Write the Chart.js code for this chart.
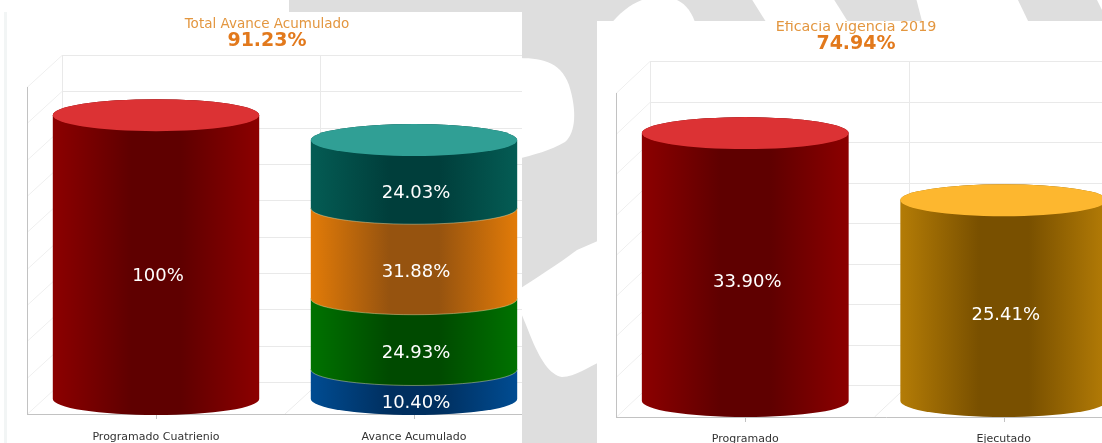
<!DOCTYPE html>
<html>
<head>
<meta charset="utf-8">
<title>Avance</title>
<script src="https://cdn.jsdelivr.net/npm/chart.js@4"></script>
<style>
  html, body { margin: 0; padding: 0; background: #fff; width: 1102px; height: 443px; overflow: hidden; }
  .fondo { position: absolute; left: 0; top: 0; }
  .panel { position: absolute; background: #fff; overflow: hidden; }
  #panel1 { left: 7px; top: 12px; width: 515px; height: 431px; box-shadow: -3px 0 0 #f2f5f5; }
  #panel2 { left: 597px; top: 21px; width: 505px; height: 422px; }
  .panel canvas { position: absolute; left: 0; top: 0; filter: blur(0.4px); }
  .titulo, .total { position: absolute; left: 0; text-align: center; font-family: "DejaVu Sans", sans-serif; filter: blur(0.3px); z-index: 2; }
  .titulo { font-size: 13.5px; line-height: 16px; color: #e3963f; }
  .total { font-size: 19px; line-height: 22px; font-weight: bold; color: #e2791c; }
</style>
</head>
<body>
<svg class="fondo" width="1102" height="443">
  <rect x="289" y="0" width="813" height="443" fill="#dedede"/>
  <path fill="#fff" d="M515,58 C540,58 560,60 569,85 C577,110 576,133 565,142 C550,151 535,154 515,160 Z"/>
  <path fill="#fff" d="M515,292 C528,283 550,270 577,250 L600,240 L600,362 C590,366 575,377 562,377 C550,375 540,360 530,335 C525,322 520,310 515,300 Z"/>
  <path fill="#fff" d="M610,25 C620,12 635,0 650,-2 L672,-2 C685,2 692,12 696,25 Z"/>
  <path fill="#fff" d="M751,-2 L833,-2 L850,25 L768,25 Z"/>
  <path fill="#fff" d="M916,-2 L1017,-2 L1030,25 L923,25 Z"/>
  <path fill="#fff" d="M1096,-2 L1104,-2 L1104,14 Z"/>
</svg>

<div class="panel" id="panel1">
  <div class="titulo" style="top:3px;width:520px">Total Avance Acumulado</div>
  <div class="total" style="top:16px;width:520px">91.23%</div>
  <canvas id="chart1" width="560" height="431"></canvas>
</div>
<div class="panel" id="panel2">
  <div class="titulo" style="top:-3px;width:518px;font-size:14.3px">Eficacia vigencia 2019</div>
  <div class="total" style="top:10px;width:518px">74.94%</div>
  <canvas id="chart2" width="560" height="422"></canvas>
</div>

<script>
const categories1 = ['Programado Cuatrienio', 'Avance Acumulado'];
const programadoCuatrienio = [100, null];
const avanceAzul = [null, 10.40];
const avanceVerde = [null, 24.93];
const avanceNaranja = [null, 31.88];
const avanceTeal = [null, 24.03];

const categories2 = ['Programado', 'Ejecutado'];
const vigencia2019 = [33.90, 25.41];

// colores: [borde, centro, tapa]
const ROJO = ['#8c0000', '#5f0000', '#dc3234'];
const AZUL = ['#004c92', '#002f5f', '#1d6fb0'];
const VERDE = ['#007200', '#004a00', '#2a9a2a'];
const NARANJA = ['#e27b08', '#96530f', '#f5a030'];
const TEAL = ['#045c54', '#003e3b', '#309f95'];
const AMARILLO = ['#b47c06', '#795000', '#fdb72f'];

function sideGradient(ctx, left, right, colors) {
  let g = ctx.createLinearGradient(left, 0, right, 0);
  g.addColorStop(0, colors[0]);
  g.addColorStop(0.38, colors[1]);
  g.addColorStop(0.62, colors[1]);
  g.addColorStop(1, colors[0]);
  return g;
}

function drawWalls(chart, o) {
  const ctx = chart.ctx;
  const area = chart.chartArea;
  const yScale = chart.scales.y;
  const xScale = chart.scales.x;
  const step = xScale.getPixelForTick(1) - xScale.getPixelForTick(0);
  const backLeft = area.left + o.depth;
  const cw = chart.width;
  ctx.save();
  ctx.lineWidth = 1;
  yScale.ticks.forEach((t, i) => {
    let y = Math.round(yScale.getPixelForValue(t.value));
    // pared de fondo
    ctx.strokeStyle = '#e9e9e9';
    ctx.beginPath();
    ctx.moveTo(backLeft, y - o.back + 0.5);
    ctx.lineTo(cw, y - o.back + 0.5);
    ctx.stroke();
    // pared izquierda
    ctx.strokeStyle = '#efefef';
    ctx.beginPath();
    ctx.moveTo(area.left, y + o.front + 0.5);
    ctx.lineTo(backLeft, y - o.back + 0.5);
    ctx.stroke();
  });
  ctx.strokeStyle = '#e9e9e9';
  [0, 1].forEach((k) => {
    let x = Math.round(backLeft + step * k) + 0.5;
    ctx.beginPath();
    ctx.moveTo(x, area.top - o.back);
    ctx.lineTo(x, area.bottom - o.back);
    ctx.stroke();
  });
  // piso
  ctx.strokeStyle = '#ececec';
  ctx.beginPath();
  ctx.moveTo(area.left + step, area.bottom + o.front);
  ctx.lineTo(backLeft + step, area.bottom - o.back);
  ctx.stroke();
  // ejes
  ctx.strokeStyle = '#c2c2c2';
  ctx.beginPath();
  ctx.moveTo(area.left + 0.5, area.top + o.front);
  ctx.lineTo(area.left + 0.5, area.bottom + o.front);
  ctx.moveTo(area.left, area.bottom + o.front + 0.5);
  ctx.lineTo(cw, area.bottom + o.front + 0.5);
  xScale.ticks.forEach((t, i) => {
    let x = Math.round(xScale.getPixelForTick(i)) + 0.5;
    ctx.moveTo(x, area.bottom + o.front);
    ctx.lineTo(x, area.bottom + o.front + 5);
  });
  ctx.stroke();
  ctx.restore();
}

function drawCylinders(chart, o) {
  const ctx = chart.ctx;
  let tops = {};
  let labels = [];
  chart.data.datasets.forEach((ds, d) => {
    chart.getDatasetMeta(d).data.forEach((bar, i) => {
      if (ds.data[i] === null) return;
      const p = bar.getProps(['x', 'y', 'base', 'width'], true);
      const rx = p.width / 2;
      const left = p.x - rx;
      const right = p.x + rx;
      const colors = ds.colores[i % ds.colores.length];
      ctx.beginPath();
      ctx.moveTo(left, p.y);
      ctx.lineTo(left, p.base);
      ctx.ellipse(p.x, p.base, rx, o.ry, 0, Math.PI, 0, true);
      ctx.lineTo(right, p.y);
      ctx.ellipse(p.x, p.y, rx, o.ry, 0, 0, Math.PI, true);
      ctx.closePath();
      ctx.fillStyle = sideGradient(ctx, left, right, colors);
      ctx.fill();
      // borde claro entre segmentos apilados
      if (tops[i]) {
        ctx.beginPath();
        ctx.ellipse(p.x, p.base, rx, o.ry, 0, Math.PI, 0, true);
        ctx.strokeStyle = 'rgba(230,220,170,0.45)';
        ctx.lineWidth = 1;
        ctx.stroke();
      }
      tops[i] = { x: p.x, y: p.y, rx: rx, color: colors[2] };
      labels.push({ x: p.x + 2, y: (p.y + p.base) / 2 + o.ry + o.labelShift, value: ds.data[i] });
    });
  });
  Object.values(tops).forEach((t) => {
    ctx.beginPath();
    ctx.ellipse(t.x, t.y, t.rx, o.ry, 0, 0, Math.PI * 2);
    ctx.fillStyle = t.color;
    ctx.fill();
  });
  ctx.fillStyle = '#fff';
  ctx.font = '18px "DejaVu Sans"';
  ctx.textAlign = 'center';
  ctx.textBaseline = 'middle';
  labels.forEach((l) => {
    let txt = Number.isInteger(l.value) ? l.value + '%' : l.value.toFixed(2) + '%';
    ctx.fillText(txt, l.x, l.y);
  });
}

const cylinderPlugin = {
  id: 'cylinders',
  beforeDatasetsDraw(chart, args, options) {
    drawWalls(chart, options);
    drawCylinders(chart, options);
  },
  beforeDatasetDraw() {
    return false;
  }
};

function drawChart(chartId, labels, datasets, cfg) {
  return new Chart(document.getElementById(chartId), {
    type: 'bar',
    data: { labels: labels, datasets: datasets },
    plugins: [cylinderPlugin],
    options: {
      responsive: false,
      animation: false,
      layout: { padding: { left: cfg.left, right: cfg.right, top: cfg.top, bottom: 0 } },
      plugins: {
        legend: { display: false },
        title: { display: false },
        tooltip: { enabled: false },
        cylinders: { depth: cfg.depth, front: cfg.front, back: cfg.back, ry: cfg.ry, labelShift: cfg.labelShift }
      },
      scales: {
        x: {
          stacked: true,
          grid: { display: false },
          border: { display: false },
          ticks: { color: '#333', font: { family: '"DejaVu Sans"', size: 11 }, padding: cfg.labelPad, maxRotation: 0 },
          afterFit(scale) { scale.height = cfg.axisHeight; }
        },
        y: {
          stacked: true,
          min: 0,
          max: cfg.max,
          grid: { display: false },
          border: { display: false },
          ticks: { display: false, stepSize: cfg.stepSize },
          afterFit(scale) { scale.width = 0; }
        }
      }
    }
  });
}

drawChart('chart1', categories1, [
  { data: programadoCuatrienio, colores: [ROJO], categoryPercentage: 1, barPercentage: 0.8 },
  { data: avanceAzul, colores: [AZUL], categoryPercentage: 1, barPercentage: 0.8 },
  { data: avanceVerde, colores: [VERDE], categoryPercentage: 1, barPercentage: 0.8 },
  { data: avanceNaranja, colores: [NARANJA], categoryPercentage: 1, barPercentage: 0.8 },
  { data: avanceTeal, colores: [TEAL], categoryPercentage: 1, barPercentage: 0.8 }
], { left: 20, right: 24, top: 60, axisHeight: 44, labelPad: 24, max: 115.2, stepSize: 12.8, depth: 35, front: 15, back: 17, ry: 16, labelShift: 3 });

drawChart('chart2', categories2, [
  { data: vigencia2019, colores: [ROJO, AMARILLO], categoryPercentage: 1, barPercentage: 0.8 }
], { left: 19, right: 24, top: 56, axisHeight: 42, labelPad: 24, max: 41, stepSize: 5.125, depth: 34, front: 16, back: 16, ry: 16, labelShift: -1 });
</script>
</body>
</html>
